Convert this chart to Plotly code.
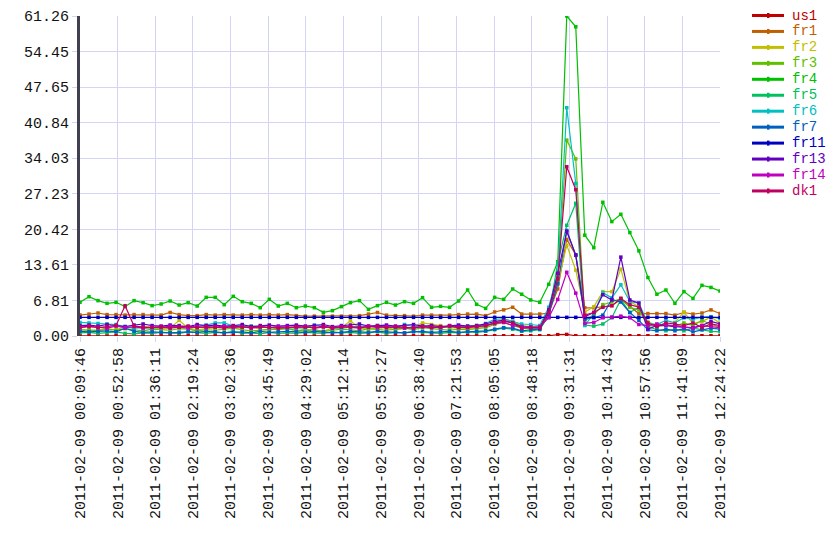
import pandas as pd
import plotly.graph_objects as go

START = "2011-02-09 00:09:46"
END = "2011-02-09 12:24:22"
N_POINTS = 72
N_XTICKS = 18

series_names = ["us1", "fr1", "fr2", "fr3", "fr4", "fr5", "fr6", "fr7", "fr11", "fr13", "fr14", "dk1"]
series_colors = ["#c00000", "#c06000", "#c0c000", "#60c000", "#00c000", "#00c060",
                 "#00c0c0", "#0060c0", "#0000c0", "#6000c0", "#c000c0", "#c00060"]

y_tickvals = [0.00, 6.81, 13.61, 20.42, 27.23, 34.03, 40.84, 47.65, 54.45, 61.26]
y_ticktext = ["0.00", "6.81", "13.61", "20.42", "27.23", "34.03", "40.84", "47.65", "54.45", "61.26"]

us1 = [0.05] * 53 + [0.25, 0.3, 0.05] + [0.05] * 16

fr1 = [4.0, 4.2, 4.4, 4.1, 4.1, 4.0, 4.1, 4.1, 4.0, 4.0, 4.5, 4.1, 3.9, 3.9, 4.1, 4.0, 4.1, 4.0, 4.0, 4.1, 4.0, 4.1, 4.0, 4.1,
       3.9, 3.8, 3.8, 3.8, 3.8, 3.8, 3.8, 3.9, 4.2, 4.5, 4.0, 3.9, 3.9, 3.8, 4.0, 4.0, 3.9, 4.0, 4.1, 4.2, 4.2, 3.9, 4.6, 5.0,
       5.5, 4.2, 4.2, 4.2, 4.4, 9.0, 18.5, 15.5, 5.4, 5.4, 5.6, 5.8, 7.0, 5.7, 4.3, 4.3, 4.3, 4.3, 4.0, 4.5, 4.2, 4.4, 5.0, 4.3]

fr2 = [1.3, 1.0, 1.2, 1.4, 1.2, 1.8, 1.5, 1.9, 1.6, 1.4, 1.5, 3.0, 1.5, 1.2, 1.4, 1.5, 1.7, 1.4, 1.6, 1.9, 1.2, 1.1, 1.5, 1.4,
       1.0, 1.3, 1.1, 0.9, 1.5, 1.6, 2.9, 1.5, 1.3, 1.4, 1.6, 1.2, 1.5, 1.7, 2.5, 2.2, 2.0, 1.5, 1.6, 1.4, 1.6, 1.8, 2.5, 3.3,
       2.8, 2.0, 1.8, 1.6, 4.5, 10.0, 17.4, 12.6, 4.6, 5.6, 8.5, 8.5, 12.8, 6.6, 5.6, 2.7, 2.0, 2.2, 2.6, 4.6, 2.4, 2.8, 3.6, 2.5]

fr3 = [1.1, 1.2, 1.0, 1.3, 1.1, 1.4, 1.2, 1.0, 1.3, 1.2, 1.1, 1.4, 1.3, 1.0, 1.2, 1.1, 1.3, 1.5, 1.2, 1.0, 1.1, 1.3, 1.2, 1.4,
       1.1, 1.0, 1.2, 0.9, 1.1, 1.3, 1.2, 1.0, 1.4, 1.2, 1.1, 1.3, 1.5, 1.2, 1.6, 1.4, 1.2, 1.1, 1.3, 1.2, 1.4, 1.6, 2.2, 2.6,
       2.0, 1.5, 1.4, 1.6, 5.0, 11.0, 37.5, 33.9, 3.0, 4.0, 6.0, 6.5, 7.2, 5.5, 5.0, 2.0, 1.8, 2.2, 1.8, 2.5, 2.0, 3.0, 2.2, 1.7]

fr4 = [6.45, 7.53, 6.77, 6.25, 6.45, 5.62, 6.77, 6.38, 5.81, 6.13, 6.70, 5.93, 6.38, 5.74, 7.40, 7.40, 6.00, 7.59, 6.57, 6.25, 5.42, 7.02, 5.74, 6.25,
       5.42, 5.74, 5.42, 4.53, 4.85, 5.62, 6.38, 6.77, 5.10, 5.81, 6.45, 5.93, 6.57, 6.25, 7.34, 5.49, 5.68, 5.49, 6.70, 8.81, 6.06, 5.29, 7.40, 7.02,
       9.0, 8.0, 6.9, 6.45, 9.9, 14.2, 61.26, 59.2, 19.3, 16.9, 25.6, 21.9, 23.3, 19.8, 16.3, 11.2, 8.0, 8.8, 6.26, 8.5, 7.2, 9.7, 9.3, 8.6]

fr5 = [0.6, 0.7, 0.5, 0.6, 0.8, 0.5, 0.4, 0.6, 0.5, 0.7, 0.6, 0.5, 0.8, 0.6, 0.5, 0.7, 0.6, 0.9, 0.5, 0.6, 0.4, 0.7, 0.5, 0.6,
       0.5, 0.7, 0.6, 0.5, 0.8, 0.6, 0.7, 0.5, 0.6, 0.8, 0.5, 0.7, 0.6, 0.9, 0.7, 0.6, 0.5, 0.7, 0.6, 0.8, 0.7, 0.9, 1.2, 1.5,
       1.3, 0.9, 1.0, 1.2, 4.0, 14.0, 21.2, 25.4, 2.1, 1.9, 2.3, 3.5, 7.0, 4.5, 5.5, 1.8, 1.2, 1.0, 1.3, 1.0, 1.5, 1.2, 0.9, 0.8]

fr6 = [2.6, 2.5, 2.4, 2.3, 2.2, 1.8, 1.5, 1.6, 1.5, 1.7, 1.6, 1.8, 1.7, 1.9, 2.1, 2.5, 2.5, 1.9, 2.0, 1.9, 1.8, 1.6, 1.7, 1.5,
       1.6, 1.5, 2.1, 1.8, 1.6, 1.5, 1.7, 1.9, 1.8, 2.0, 1.7, 1.6, 2.2, 1.8, 1.9, 1.7, 1.6, 1.8, 1.7, 1.9, 2.0, 2.4, 3.2, 3.3,
       2.8, 2.3, 2.2, 2.0, 5.5, 12.0, 43.7, 29.2, 2.0, 4.3, 8.3, 7.3, 9.8, 6.6, 6.3, 2.4, 2.2, 3.0, 2.5, 3.5, 3.2, 3.6, 3.7, 3.3]

fr7 = [0.9, 0.8, 0.9, 1.0, 0.8, 1.5, 0.9, 0.7, 0.8, 0.7, 0.6, 0.7, 0.8, 0.7, 0.9, 0.8, 0.6, 0.7, 0.8, 0.6, 0.9, 0.7, 0.8, 0.9,
       0.8, 0.7, 0.9, 0.8, 0.6, 0.7, 0.9, 0.8, 0.7, 0.9, 0.8, 0.7, 0.6, 0.8, 0.9, 0.7, 0.8, 0.9, 0.7, 0.8, 0.9, 1.0, 1.3, 1.6,
       1.5, 1.0, 1.2, 1.3, 4.0, 10.0, 20.2, 15.5, 3.2, 3.5, 4.0, 7.0, 6.5, 4.5, 3.0, 1.2, 1.0, 1.3, 1.0, 1.4, 0.8, 1.2, 1.5, 1.3]

fr11 = [3.57] * 72

fr13 = [2.0, 2.1, 1.9, 2.2, 2.0, 1.8, 2.1, 2.3, 2.0, 1.9, 2.1, 2.0, 1.8, 2.2, 2.0, 2.1, 1.9, 2.0, 2.2, 1.8, 2.0, 2.1, 1.9, 2.0,
        2.1, 1.9, 2.0, 2.2, 1.8, 2.0, 2.1, 2.3, 1.9, 2.0, 2.1, 1.9, 2.0, 2.2, 1.9, 2.0, 1.8, 2.0, 2.1, 1.9, 2.0, 2.3, 2.8, 3.0,
        2.5, 1.8, 1.7, 1.5, 5.0, 12.0, 20.0, 15.5, 3.7, 4.5, 7.9, 6.9, 15.1, 6.9, 6.3, 1.3, 2.0, 2.0, 1.8, 1.7, 1.6, 2.0, 2.8, 2.3]

fr14 = [1.6, 1.8, 1.7, 1.5, 1.9, 1.6, 1.8, 1.5, 1.7, 1.6, 1.9, 1.7, 1.5, 1.8, 1.6, 1.7, 1.9, 1.6, 1.8, 1.5, 1.7, 1.6, 1.8, 1.7,
        1.6, 1.8, 1.5, 1.7, 1.6, 1.8, 1.7, 1.5, 1.9, 1.6, 1.8, 1.7, 1.5, 1.6, 1.8, 1.7, 1.6, 1.9, 1.7, 1.6, 1.8, 2.0, 2.4, 2.6,
        2.0, 1.8, 1.7, 1.8, 3.5, 7.0, 12.2, 8.2, 2.4, 2.6, 3.5, 3.6, 3.8, 3.5, 2.2, 2.0, 2.3, 2.1, 2.0, 1.7, 1.5, 2.0, 1.8, 1.6]

dk1 = [1.7, 1.9, 1.6, 1.8, 2.0, 5.8, 1.9, 1.7, 1.6, 1.8, 1.5, 1.7, 1.9, 1.6, 1.8, 1.7, 1.5, 1.9, 1.7, 1.6, 1.8, 1.7, 1.5, 1.6,
       1.8, 1.7, 1.6, 1.9, 1.5, 1.7, 1.8, 1.6, 1.7, 1.9, 1.6, 1.8, 1.7, 1.5, 1.8, 1.6, 1.7, 1.9, 1.6, 1.7, 1.8, 2.0, 2.5, 2.8,
       2.5, 1.5, 1.6, 1.6, 4.5, 11.0, 32.4, 28.0, 4.0, 4.5, 5.5, 5.8, 7.2, 6.0, 5.5, 2.5, 1.8, 2.5, 2.3, 2.0, 2.5, 1.6, 2.3, 2.0]

series_values = [us1, fr1, fr2, fr3, fr4, fr5, fr6, fr7, fr11, fr13, fr14, dk1]

times = pd.date_range(START, END, periods=N_POINTS)
x_tickvals = pd.date_range(START, END, periods=N_XTICKS)

FONT = "Liberation Mono, Courier New, monospace"
GRID = "#d4d4f6"
TEXT = "#111111"

fig = go.Figure()
for name, color, vals in zip(series_names, series_colors, series_values):
    fig.add_trace(go.Scatter(
        x=times, y=vals, name=name, mode="lines+markers",
        line=dict(color=color, width=1.2),
        marker=dict(symbol="square", size=3.5, color=color),
        showlegend=False,
    ))

# page-pixel layout of the plot area (the HTML body adds an 8px offset)
PAGE_OFF = 8
L, R, T, B = 80, 720, 16, 336
W, H = 840, 560

def px(xp):
    return (xp - L) / (R - L)

def py(yp):
    return (B - yp) / (B - T)

shapes = []
annotations = []
for i, (name, color) in enumerate(zip(series_names, series_colors)):
    yc = 15.5 + i * 15.95
    shapes.append(dict(type="line", xref="paper", yref="paper",
                       x0=px(752), x1=px(784), y0=py(yc), y1=py(yc),
                       line=dict(color=color, width=3)))
    shapes.append(dict(type="rect", xref="paper", yref="paper",
                       x0=px(767), x1=px(769.5), y0=py(yc - 2.5), y1=py(yc + 2.5),
                       line=dict(width=0), fillcolor=color))
    annotations.append(dict(text=name, xref="paper", yref="paper",
                            x=px(791), y=py(yc), xanchor="left", yanchor="middle",
                            showarrow=False, borderpad=0,
                            font=dict(family=FONT, size=14, color=color)))

fig.update_layout(
    width=W - PAGE_OFF, height=H - PAGE_OFF,
    margin=dict(l=L - PAGE_OFF, r=W - R, t=T - PAGE_OFF, b=H - B),
    paper_bgcolor="white", plot_bgcolor="white",
    font=dict(family=FONT, size=15, color=TEXT),
    shapes=shapes, annotations=annotations,
    showlegend=False,
)
fig.update_xaxes(
    type="date", range=[START, END], tickvals=x_tickvals,
    tickformat="%Y-%m-%d %H:%M:%S", tickangle=-90,
    showgrid=True, gridcolor=GRID, gridwidth=1,
    ticks="outside", ticklen=5, tickcolor=GRID,
    showline=False, zeroline=False, automargin=False,
    tickfont=dict(family=FONT, size=15, color=TEXT),
)
fig.update_yaxes(
    range=[0, 61.26], tickvals=y_tickvals, ticktext=y_ticktext,
    showgrid=True, gridcolor=GRID, gridwidth=1,
    ticks="outside", ticklen=5, tickcolor=GRID,
    showline=True, linecolor="#404050", linewidth=3,
    zeroline=False, automargin=False,
    tickfont=dict(family=FONT, size=15, color=TEXT),
)
fig.write_html("out.html")
